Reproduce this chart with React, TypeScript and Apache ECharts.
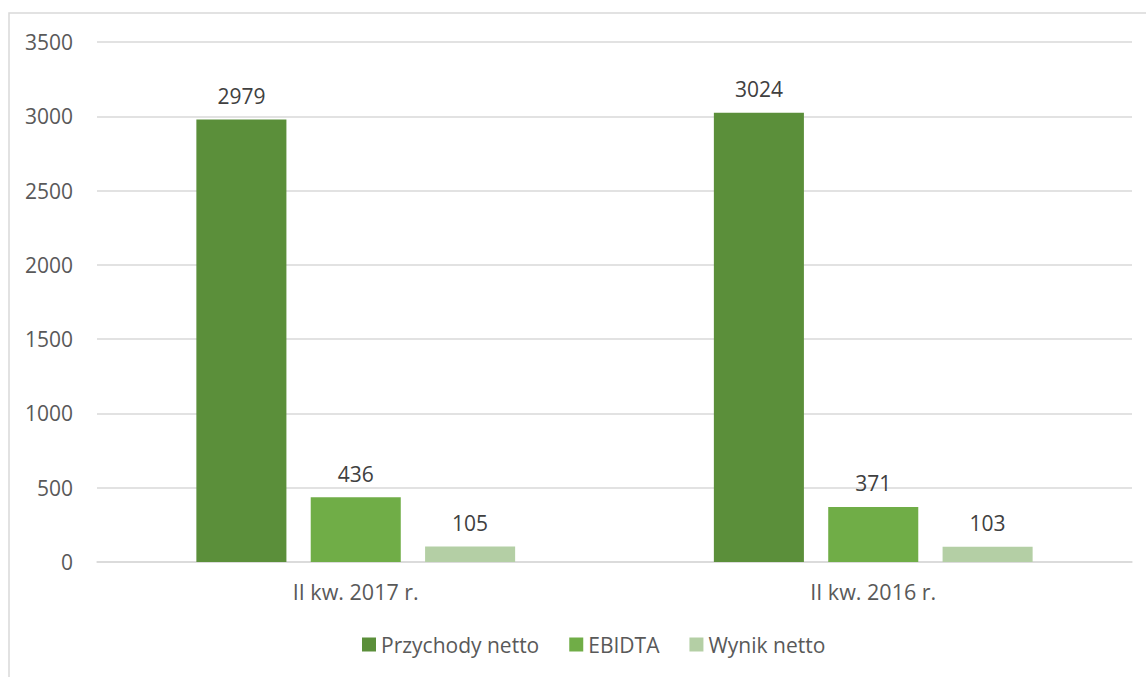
import React, { useEffect, useRef } from "react";
import * as echarts from "echarts";

const categories = ["II kw. 2017 r.", "II kw. 2016 r."];
const seriesNames = ["Przychody netto", "EBIDTA", "Wynik netto"];
const przychody = [2979, 3024];
const ebidta = [436, 371];
const wynik = [105, 103];
const colors = ["#5B8F3A", "#70AD47", "#B4CFA5"];

export default function App() {
  const ref = useRef<HTMLDivElement>(null);
  useEffect(() => {
    if (!ref.current) return;
    const chart = echarts.init(ref.current, undefined, { renderer: "svg" });
    const font = "'Open Sans', 'Liberation Sans', sans-serif";
    const values = [przychody, ebidta, wynik];
    chart.setOption({
      animation: false,
      textStyle: { fontFamily: font },
      graphic: [
        {
          type: "rect",
          shape: { x: 9, y: 13, width: 1200, height: 700 },
          style: { fill: "none", stroke: "#D9D9D9", lineWidth: 1.5 },
          silent: true,
        },
      ],
      grid: { left: 97, right: 14, top: 42, bottom: 115 },
      legend: {
        bottom: 17,
        left: 357,
        itemWidth: 14,
        itemHeight: 14,
        itemGap: 30,
        icon: "rect",
        textStyle: { color: "#595959", fontSize: 21, fontFamily: font },
        data: seriesNames,
      },
      xAxis: {
        type: "category",
        data: categories,
        axisLine: { lineStyle: { color: "#D9D9D9", width: 1.5 } },
        axisTick: { show: false },
        axisLabel: { color: "#595959", fontSize: 21.5, margin: 18, fontFamily: font },
      },
      yAxis: {
        type: "value",
        min: 0,
        max: 3500,
        interval: 500,
        axisLine: { show: false },
        axisTick: { show: false },
        splitLine: { lineStyle: { color: "#D9D9D9", width: 1.5 } },
        axisLabel: {
          color: "#595959",
          fontSize: 21,
          margin: 24,
          fontFamily: font,
          formatter: (v: number) => String(v),
        },
      },
      series: seriesNames.map((name, i) => ({
        name,
        type: "bar",
        data: values[i],
        barWidth: "17.4%",
        barGap: "27%",
        itemStyle: { color: colors[i] },
        label: {
          show: true,
          position: "top",
          distance: 13,
          color: "#404040",
          fontSize: 21,
          fontFamily: font,
        },
      })),
    });
    return () => chart.dispose();
  }, []);
  return (
    <div
      ref={ref}
      style={{ position: "absolute", left: 0, top: 0, width: 1146, height: 677, background: "#fff" }}
    />
  );
}
